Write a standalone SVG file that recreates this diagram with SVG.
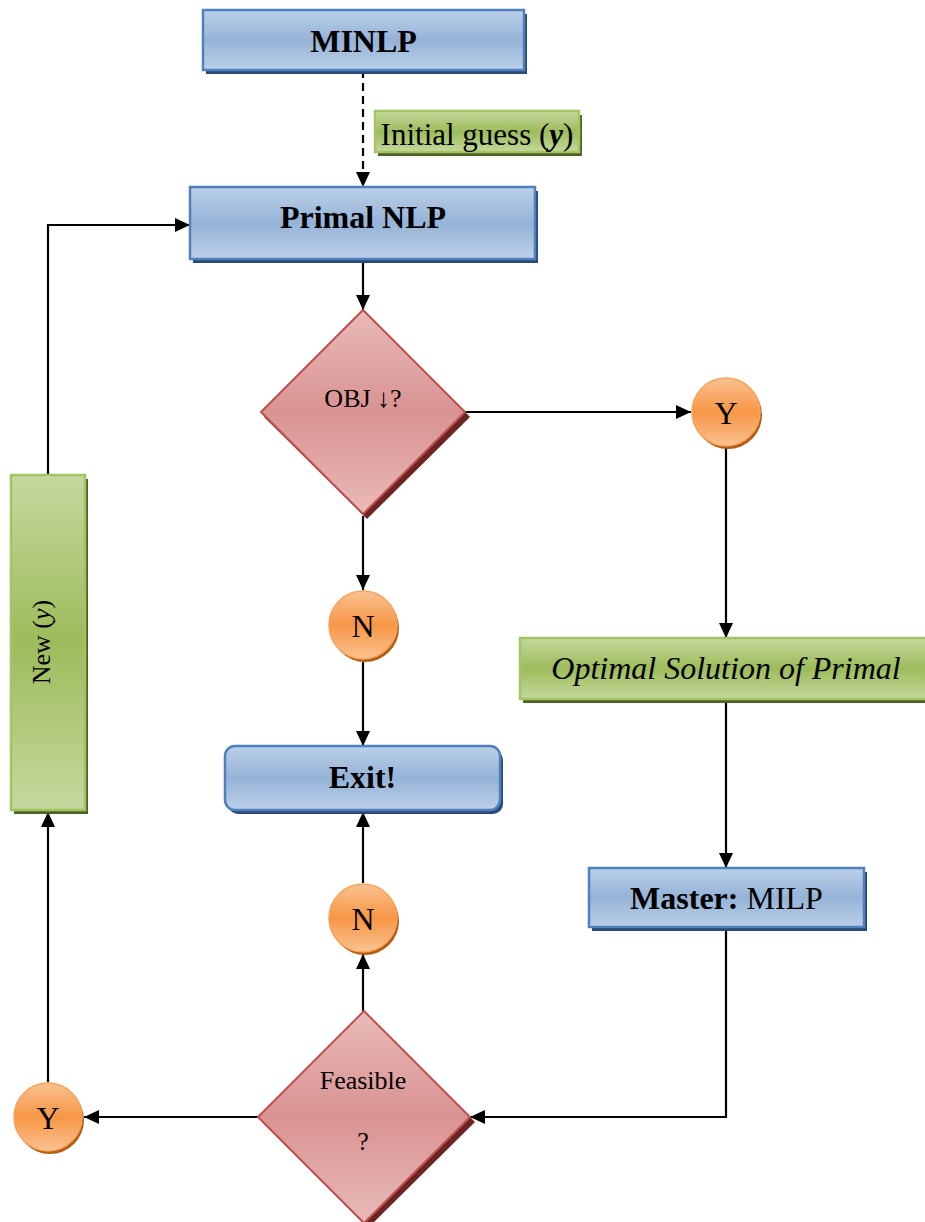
<svg xmlns="http://www.w3.org/2000/svg" width="925" height="1222" viewBox="0 0 925 1222">
  <defs>
    <linearGradient id="gBlue" x1="0" y1="0" x2="0" y2="1">
      <stop offset="0" stop-color="#bcd0e8"/>
      <stop offset="0.5" stop-color="#95b3d7"/>
      <stop offset="1" stop-color="#bcd0e8"/>
    </linearGradient>
    <linearGradient id="gGreen" x1="0" y1="0" x2="0" y2="1">
      <stop offset="0" stop-color="#c5d89e"/>
      <stop offset="0.5" stop-color="#9dbc5b"/>
      <stop offset="1" stop-color="#c5d89e"/>
    </linearGradient>
    <linearGradient id="gRed" x1="0" y1="0" x2="0" y2="1">
      <stop offset="0" stop-color="#e8bab9"/>
      <stop offset="0.5" stop-color="#d99392"/>
      <stop offset="1" stop-color="#e8bab9"/>
    </linearGradient>
    <linearGradient id="gOrange" x1="0" y1="0" x2="0" y2="1">
      <stop offset="0" stop-color="#fac291"/>
      <stop offset="0.5" stop-color="#f79646"/>
      <stop offset="1" stop-color="#fac291"/>
    </linearGradient>
    <marker id="arrow" markerUnits="userSpaceOnUse" markerWidth="16" markerHeight="14" refX="15" refY="7" orient="auto">
      <path d="M0,0 L15,7 L0,14 z" fill="#000"/>
    </marker>
  </defs>
  <style>
    .blue { fill: url(#gBlue); stroke: #4f81bd; stroke-width: 2.5; }
    .blueShadow { fill: #2b4a75; }
    .green { fill: url(#gGreen); stroke: #a3c463; stroke-width: 2.5; }
    .greenShadow { fill: #4f6228; }
    .red { fill: url(#gRed); stroke: #c0504d; stroke-width: 2; }
    .redShadow { fill: #6b2523; }
    .orange { fill: url(#gOrange); stroke: #f8a35a; stroke-width: 1.5; }
    .orangeShadow { fill: #b35c12; }
    .link { fill: none; stroke: #000; stroke-width: 2.2; }
    .dash { stroke-dasharray: 8 5; }
    text { font-family: "Liberation Serif", "Times New Roman", serif; fill: #000; text-anchor: middle; }
    .bold { font-weight: bold; font-size: 32px; }
    .reg32 { font-size: 32px; }
    .label { font-size: 31px; }
    .dec { font-size: 26px; }
    .circ { font-size: 32px; }
  </style>

  <!-- connectors -->
  <g id="connectors">
    <path class="link dash" d="M363,70 V187" marker-end="url(#arrow)"/>
    <path class="link" d="M363,262 V310" marker-end="url(#arrow)"/>
    <path class="link" d="M465,412 H691" marker-end="url(#arrow)"/>
    <path class="link" d="M726,448 V638" marker-end="url(#arrow)"/>
    <path class="link" d="M726,702 V868" marker-end="url(#arrow)"/>
    <path class="link" d="M726,930 V1117 H470" marker-end="url(#arrow)"/>
    <path class="link" d="M363,516 V590" marker-end="url(#arrow)"/>
    <path class="link" d="M363,662 V746" marker-end="url(#arrow)"/>
    <path class="link" d="M363,883 V812" marker-end="url(#arrow)"/>
    <path class="link" d="M363,1011 V954" marker-end="url(#arrow)"/>
    <path class="link" d="M258,1117 H84" marker-end="url(#arrow)"/>
    <path class="link" d="M48,1082 V812" marker-end="url(#arrow)"/>
    <path class="link" d="M48,475 V225 H190" marker-end="url(#arrow)"/>
  </g>

  <!-- MINLP -->
  <g id="minlp">
    <rect class="blueShadow" x="206" y="14" width="321" height="60"/>
    <rect class="blue" x="203" y="10" width="321" height="60"/>
    <text class="bold" x="363.5" y="52">MINLP</text>
  </g>

  <!-- Initial guess label -->
  <g id="initial-guess">
    <rect class="greenShadow" x="378" y="115" width="204" height="41"/>
    <rect class="green" x="375" y="111" width="204" height="41"/>
    <text class="label" x="477" y="145">Initial guess (<tspan font-weight="bold" font-style="italic">y</tspan>)</text>
  </g>

  <!-- Primal NLP -->
  <g id="primal-nlp">
    <rect class="blueShadow" x="193" y="191" width="345" height="72"/>
    <rect class="blue" x="190" y="187" width="345" height="72"/>
    <text class="bold" x="363" y="228">Primal NLP</text>
  </g>

  <!-- OBJ decision -->
  <g id="obj-decision">
    <polygon class="redShadow" points="367,315 470,417 367,519 264,417"/>
    <polygon class="red" points="363,310 465,412 363,514 261,412"/>
    <text class="dec" x="363" y="407">OBJ ↓?</text>
  </g>

  <!-- Y (upper) -->
  <g id="yes-upper">
    <circle class="orangeShadow" cx="728" cy="415" r="34"/>
    <circle class="orange" cx="726" cy="412" r="34"/>
    <text class="circ" x="726" y="424">Y</text>
  </g>

  <!-- N (upper) -->
  <g id="no-upper">
    <circle class="orangeShadow" cx="365" cy="628" r="34"/>
    <circle class="orange" cx="363" cy="625" r="34"/>
    <text class="circ" x="363" y="637">N</text>
  </g>

  <!-- Exit -->
  <g id="exit">
    <rect class="blueShadow" x="228" y="750" width="275" height="64" rx="10"/>
    <rect class="blue" x="225" y="746" width="275" height="64" rx="10"/>
    <text class="bold" x="362.5" y="788">Exit!</text>
  </g>

  <!-- Optimal solution -->
  <g id="optimal-solution">
    <rect class="greenShadow" x="523" y="642" width="410" height="61"/>
    <rect class="green" x="520" y="638" width="410" height="61"/>
    <text class="reg32" x="726" y="679" font-style="italic">Optimal Solution of Primal</text>
  </g>

  <!-- Master MILP -->
  <g id="master">
    <rect class="blueShadow" x="592" y="872" width="275" height="59"/>
    <rect class="blue" x="589" y="868" width="275" height="59"/>
    <text class="reg32" x="726.5" y="909"><tspan font-weight="bold">Master:</tspan> MILP</text>
  </g>

  <!-- N (lower) -->
  <g id="no-lower">
    <circle class="orangeShadow" cx="365" cy="921" r="34"/>
    <circle class="orange" cx="363" cy="918" r="34"/>
    <text class="circ" x="363" y="930">N</text>
  </g>

  <!-- Feasible decision -->
  <g id="feasible-decision">
    <polygon class="redShadow" points="368,1016 475,1122 368,1228 262,1122"/>
    <polygon class="red" points="364,1011 470,1117 364,1223 258,1117"/>
    <text class="dec" x="363" y="1089">Feasible</text>
    <text class="dec" x="363" y="1150">?</text>
  </g>

  <!-- Y (lower) -->
  <g id="yes-lower">
    <circle class="orangeShadow" cx="50" cy="1120" r="34"/>
    <circle class="orange" cx="48" cy="1117" r="34"/>
    <text class="circ" x="48" y="1129">Y</text>
  </g>

  <!-- New (y) -->
  <g id="new-y">
    <rect class="greenShadow" x="14" y="479" width="74" height="335"/>
    <rect class="green" x="11" y="475" width="74" height="335"/>
    <text class="dec" transform="translate(50,642) rotate(-90)">New (<tspan font-style="italic">y</tspan>)</text>
  </g>
</svg>
